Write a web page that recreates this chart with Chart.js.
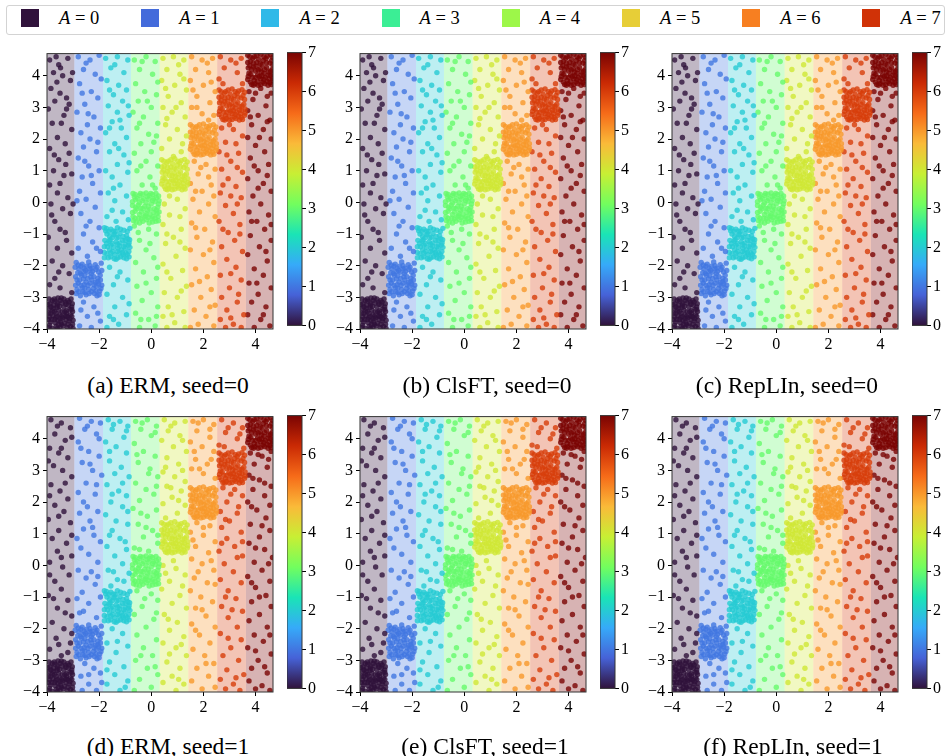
<!DOCTYPE html>
<html>
<head>
<meta charset="utf-8">
<script src="https://cdn.jsdelivr.net/npm/chart.js@4.4.1/dist/chart.umd.min.js"></script>
<style>
body { margin:0; background:#fff; font-family:'Liberation Serif','Times New Roman',serif; }
#fig { position:relative; width:948px; height:756px; overflow:hidden; background:#fff; }
.box { position:absolute; }
.cap { position:absolute; font-size:23.5px; line-height:28px; transform:translateX(-50%); white-space:nowrap; color:#000; }
#legend { position:absolute; left:6px; top:5px; width:937px; height:28px; border:1px solid #d3d3d3; border-radius:3px; }
.sw { position:absolute; top:3px; width:18px; height:18px; }
.lb { position:absolute; top:1px; font-size:18.5px; line-height:22px; white-space:nowrap; color:#000; }
</style>
</head>
<body>
<div id="fig"><div id="legend"></div></div>
<script>
// groups and ticks
const groups = [0, 1, 2, 3, 4, 5, 6, 7];
const xTicksStep = 2;
const yTicksStep = 1;
const xRange = [-4, 4.67];
const yRange = [-4, 4.7];
// x boundaries of the predicted A regions (background bands)
const bandEdges = [-4, -2.95, -1.85, -0.78, 0.32, 1.42, 2.53, 3.63, 4.67];
const captions = ['(a) ERM, seed=0', '(b) ClsFT, seed=0', '(c) RepLIn, seed=0',
                  '(d) ERM, seed=1', '(e) ClsFT, seed=1', '(f) RepLIn, seed=1'];

// seed 0, scattered points per A
const s0A0 = [[-3.9,4.5],[-3.55,4.35],[-3.2,4.55],[-3.75,4.1],[-3.4,4.0],[-3.1,3.85],[-3.85,3.6],[-3.5,3.45],[-3.25,3.3],[-3.7,3.2],[-3.95,2.95],[-3.35,2.75],[-3.05,2.3],[-3.8,2.5],[-3.6,2.05],[-3.3,1.85],[-3.9,1.7],[-3.15,1.55],[-3.55,1.35],[-3.75,1.0],[-3.35,0.85],[-3.05,0.9],[-3.9,0.55],[-3.6,0.3],[-3.2,0.15],[-3.85,-0.05],[-3.4,-0.2],[-3.1,-0.35],[-3.7,-0.6],[-3.5,-0.85],[-3.95,-1.1],[-3.25,-1.2],[-3.6,-1.45],[-3.05,-1.6],[-3.8,-1.85],[-3.4,-2.0],[-3.15,-2.25],[-3.7,-2.4],[-3.5,-2.7],[-3.9,-2.6],[-3.25,2.95],[-3.65,4.6],
  [-3.48,4.25],[-3.02,4.1],[-3.62,3.8],[-3.15,3.1],[-3.45,2.5],[-3.72,1.5],[-3.28,1.2],[-3.5,0.6],[-3.0,-0.05],[-3.82,-0.4],[-3.3,-0.95],[-3.55,-2.2],[-3.05,-2.85]];
const s0A1 = [[-2.8,4.6],[-2.35,4.5],[-2.0,4.65],[-2.6,4.2],[-2.15,4.05],[-2.75,3.75],[-2.3,3.5],[-2.05,3.3],[-2.55,3.1],[-2.85,2.85],[-2.2,2.7],[-2.45,2.45],[-2.7,2.2],[-1.95,2.35],[-2.35,2.0],[-2.6,1.75],[-2.1,1.6],[-2.8,1.4],[-2.4,1.15],[-2.0,1.0],[-2.65,0.8],[-2.25,0.6],[-2.75,0.35],[-1.95,0.3],[-2.5,0.1],[-2.15,-0.15],[-2.7,-0.35],[-2.35,-0.6],[-2.0,-0.8],[-2.6,-1.0],[-2.25,-1.25],[-2.8,-1.45],[-1.95,-1.55],[-2.45,-1.7],[-2.6,-3.15],[-2.2,-3.3],[-2.45,-3.6],[-1.95,-3.75],[-2.75,-3.9],[-2.3,-3.95],
  [-2.5,4.4],[-1.92,3.9],[-2.65,3.45],[-2.42,2.8],[-2.05,1.9],[-2.55,1.3],[-2.3,0.85],[-2.85,0.05],[-2.5,-0.75],[-2.1,-1.45],[-2.7,-3.4],[-2.05,-3.5]];
const s0A2 = [[-1.75,4.55],[-1.3,4.6],[-0.9,4.5],[-1.55,4.25],[-1.05,4.1],[-1.7,3.85],[-1.25,3.7],[-0.95,3.55],[-1.45,3.4],[-1.1,3.2],[-1.65,3.05],[-1.3,2.85],[-0.85,2.75],[-1.5,2.55],[-1.15,2.35],[-1.75,2.2],[-0.95,2.05],[-1.4,1.85],[-1.6,1.6],[-1.05,1.5],[-1.3,1.2],[-1.75,1.0],[-0.9,0.95],[-1.5,0.8],[-1.2,0.55],[-1.65,0.3],[-0.95,0.2],[-1.4,0.05],[-1.1,-0.3],[-1.7,-0.45],[-1.35,-0.6],[-1.6,-2.05],[-1.2,-2.2],[-0.9,-2.45],[-1.45,-2.6],[-1.7,-2.9],[-1.1,-3.0],[-1.4,-3.3],[-0.95,-3.55],[-1.6,-3.6],[-1.25,-3.85],[-1.7,-3.95],
  [-1.4,4.35],[-1.6,3.55],[-0.88,3.05],[-1.2,2.6],[-1.6,2.35],[-1.25,1.7],[-0.85,1.25],[-1.45,0.45],[-0.88,-0.55],[-1.5,-0.25],[-1.3,-2.35],[-0.85,-3.2],[-1.45,-3.7]];
const s0A3 = [[-0.65,4.5],[-0.2,4.6],[0.15,4.45],[-0.45,4.2],[0.05,4.05],[-0.6,3.75],[-0.25,3.5],[0.2,3.4],[-0.5,3.2],[0.0,3.0],[-0.7,2.85],[-0.3,2.7],[0.25,2.5],[-0.55,2.35],[-0.1,2.15],[0.2,2.1],[-0.4,1.85],[-0.65,1.55],[0.0,1.6],[-0.2,1.3],[0.25,1.15],[-0.55,1.0],[-0.05,0.8],[-0.35,0.55],[0.15,0.45],[-0.65,-0.75],[-0.1,-0.85],[0.2,-1.0],[-0.45,-1.2],[-0.2,-1.5],[0.1,-1.75],[-0.6,-1.9],[-0.3,-2.2],[0.2,-2.4],[-0.55,-2.65],[0.0,-2.85],[-0.35,-3.1],[0.25,-3.3],[-0.6,-3.5],[-0.1,-3.7],[0.15,-3.9],[-0.45,-3.95],
  [-0.35,4.45],[0.25,3.8],[-0.15,3.2],[-0.45,2.5],[0.1,1.9],[-0.4,1.15],[0.05,0.55],[-0.5,-0.95],[-0.05,-1.3],[0.25,-2.05],[-0.2,-2.55],[-0.4,-3.7],[0.2,-3.6]];
const s0A4 = [[0.45,4.55],[0.85,4.6],[1.25,4.5],[0.6,4.2],[1.1,4.05],[0.4,3.85],[0.9,3.7],[1.35,3.55],[0.65,3.35],[1.15,3.15],[0.45,3.0],[0.8,2.85],[1.3,2.7],[0.55,2.45],[1.0,2.3],[1.35,2.1],[0.7,2.0],[0.4,1.7],[1.15,1.6],[0.85,1.45],[0.5,-0.05],[1.0,0.1],[1.3,-0.2],[0.7,-0.4],[0.45,-0.7],[1.15,-0.85],[0.85,-1.1],[0.55,-1.3],[1.3,-1.45],[0.95,-1.7],[0.45,-1.95],[1.2,-2.15],[0.75,-2.4],[1.35,-2.65],[0.5,-2.85],[1.0,-3.0],[0.65,-3.3],[1.25,-3.45],[0.45,-3.6],[0.9,-3.8],[1.3,-3.95],[0.6,-3.95],
  [1.05,4.35],[0.55,3.6],[1.25,3.9],[0.95,3.0],[0.6,2.65],[1.2,1.85],[0.7,0.2],[1.1,-0.45],[0.6,-1.0],[1.1,-1.25],[0.6,-2.2],[1.15,-2.8],[0.8,-3.55]];
const s0A5 = [[1.55,4.6],[1.95,4.5],[2.35,4.55],[1.7,4.2],[2.2,4.1],[1.5,3.85],[2.0,3.7],[2.45,3.5],[1.75,3.35],[2.25,3.15],[1.55,3.0],[1.95,2.8],[2.4,2.75],[1.65,1.3],[2.1,1.2],[2.45,1.05],[1.8,0.9],[1.5,0.6],[2.3,0.55],[1.95,0.35],[1.6,0.1],[2.2,-0.05],[1.85,-0.3],[2.45,-0.45],[1.55,-0.65],[2.05,-0.85],[1.75,-1.1],[2.35,-1.25],[1.5,-1.5],[2.0,-1.65],[2.4,-1.9],[1.7,-2.1],[2.15,-2.35],[1.55,-2.6],[2.3,-2.75],[1.9,-3.0],[2.45,-3.25],[1.65,-3.4],[2.1,-3.6],[1.8,-3.85],[2.4,-3.9],[1.5,-3.95],
  [2.15,4.4],[1.6,3.55],[2.3,3.8],[1.75,3.0],[2.2,2.6],[1.9,1.1],[2.2,0.8],[1.7,0.35],[2.4,0.2],[1.7,-0.8],[2.25,-1.5],[1.85,-2.5],[2.25,-3.3]];
const s0A6 = [[2.65,4.6],[3.05,4.5],[3.45,4.55],[2.8,4.25],[3.3,4.1],[2.6,3.9],[3.5,3.75],[2.7,2.35],[3.15,2.3],[3.5,2.1],[2.85,1.9],[2.6,1.6],[3.35,1.55],[3.05,1.3],[2.7,1.05],[3.5,0.95],[2.95,0.75],[3.25,0.5],[2.65,0.3],[3.45,0.15],[2.85,-0.1],[3.15,-0.35],[2.6,-0.6],[3.4,-0.7],[2.95,-0.95],[3.2,-1.2],[2.7,-1.4],[3.5,-1.55],[2.9,-1.8],[3.25,-2.05],[2.65,-2.3],[3.45,-2.45],[3.0,-2.7],[2.7,-3.0],[3.3,-3.15],[2.9,-3.4],[3.55,-3.55],[2.65,-3.7],[3.15,-3.85],[3.45,-3.95],[2.85,-3.95],[3.3,-0.05],
  [3.25,4.4],[2.75,3.75],[3.0,2.45],[3.25,1.85],[2.9,1.5],[3.3,1.1],[2.75,0.55],[3.05,0.2],[2.75,-0.85],[3.4,-1.0],[3.05,-2.25],[3.35,-2.9],[3.05,-3.65]];
const s0A7 = [[3.75,3.5],[4.2,3.6],[4.6,3.45],[3.9,3.25],[4.4,3.05],[3.7,2.9],[4.1,2.75],[4.55,2.6],[3.85,2.45],[4.3,2.3],[3.7,2.05],[4.6,2.0],[4.0,1.8],[4.35,1.6],[3.8,1.4],[4.5,1.2],[4.1,1.0],[3.7,0.75],[4.3,0.6],[4.6,0.35],[3.9,0.2],[4.2,-0.05],[3.75,-0.3],[4.5,-0.4],[4.05,-0.6],[4.35,-0.85],[3.8,-1.05],[4.6,-1.2],[4.15,-1.4],[3.7,-1.65],[4.45,-1.85],[3.95,-2.1],[4.3,-2.3],[3.75,-2.55],[4.6,-2.7],[4.1,-2.9],[3.85,-3.15],[4.4,-3.3],[3.7,-3.55],[4.2,-3.7],[4.55,-3.9],[3.95,-3.95],
  [4.0,3.45],[4.45,3.35],[3.8,2.7],[4.45,2.55],[4.15,2.05],[3.95,1.15],[4.45,0.85],[4.1,0.45],[3.85,-0.6],[4.6,-0.7],[4.4,-1.55],[4.05,-2.55],[4.3,-3.55]];

// seed 1, scattered points per A
const s1A0 = [[-3.85,4.6],[-3.45,4.5],[-3.1,4.35],[-3.7,4.15],[-3.3,3.95],[-3.9,3.7],[-3.55,3.55],[-3.2,3.4],[-3.75,3.15],[-3.4,3.0],[-3.05,2.8],[-3.85,2.55],[-3.5,2.35],[-3.2,2.1],[-3.7,1.9],[-3.35,1.7],[-3.95,1.45],[-3.1,1.35],[-3.55,1.1],[-3.8,0.85],[-3.25,0.7],[-3.6,0.45],[-3.05,0.3],[-3.9,0.1],[-3.4,-0.05],[-3.15,-0.3],[-3.7,-0.5],[-3.45,-0.75],[-3.95,-0.95],[-3.2,-1.1],[-3.6,-1.35],[-3.05,-1.6],[-3.8,-1.8],[-3.35,-2.0],[-3.65,-2.3],[-3.1,-2.45],[-3.9,-2.65],[-3.45,-2.85],[-3.2,-2.75],[-3.75,-1.05],
  [-3.6,4.4],[-3.05,4.05],[-3.45,3.7],[-3.95,3.3],[-3.3,2.6],[-3.9,2.2],[-3.55,1.55],[-3.05,0.95],[-3.45,0.25],[-3.9,-0.3],[-3.3,-1.5],[-3.55,-2.5],[-3.05,-2.15]];
const s1A1 = [[-2.75,4.65],[-2.3,4.55],[-1.95,4.5],[-2.55,4.3],[-2.1,4.15],[-2.8,3.9],[-2.4,3.6],[-2.0,3.45],[-2.65,3.25],[-2.25,3.0],[-1.9,2.85],[-2.5,2.6],[-2.8,2.3],[-2.15,2.25],[-2.45,1.85],[-2.75,1.65],[-2.05,1.7],[-2.35,1.4],[-2.6,1.15],[-2.2,0.95],[-1.95,0.75],[-2.7,0.55],[-2.4,0.35],[-2.05,0.1],[-2.8,-0.15],[-2.5,-0.4],[-2.15,-0.6],[-2.65,-0.85],[-1.95,-1.0],[-2.4,-1.2],[-2.75,-1.5],[-2.1,-1.65],[-2.55,-3.1],[-2.2,-3.25],[-2.7,-3.5],[-1.95,-3.4],[-2.4,-3.75],[-2.1,-3.95],[-2.65,-3.95],[-2.85,-1.05],
  [-2.45,4.4],[-2.0,4.0],[-2.7,3.7],[-2.35,3.2],[-2.1,2.55],[-2.6,2.0],[-2.25,1.2],[-2.85,0.85],[-2.3,-0.2],[-2.05,-0.35],[-2.6,-1.45],[-2.4,-3.45],[-1.9,-3.7]];
const s1A2 = [[-1.65,4.6],[-1.2,4.55],[-0.9,4.4],[-1.5,4.3],[-1.05,4.05],[-1.75,3.9],[-1.35,3.75],[-0.95,3.55],[-1.6,3.3],[-1.15,3.1],[-1.4,2.9],[-0.85,2.8],[-1.7,2.55],[-1.25,2.35],[-0.95,2.2],[-1.55,2.0],[-1.1,1.85],[-1.75,1.6],[-1.35,1.4],[-0.9,1.3],[-1.5,1.1],[-1.2,0.85],[-1.7,0.6],[-0.95,0.5],[-1.4,0.3],[-1.1,0.05],[-1.65,-0.15],[-0.85,-0.25],[-1.3,-0.45],[-1.55,-0.65],[-1.5,-2.0],[-1.1,-2.15],[-1.7,-2.45],[-0.9,-2.55],[-1.35,-2.75],[-1.6,-3.05],[-1.05,-3.2],[-1.4,-3.45],[-0.9,-3.65],[-1.7,-3.75],[-1.2,-3.95],
  [-1.45,4.45],[-0.95,4.25],[-1.6,3.6],[-1.1,2.6],[-1.5,2.25],[-0.9,1.7],[-1.6,0.95],[-1.0,0.75],[-1.45,-0.2],[-1.05,-0.5],[-1.3,-2.4],[-1.7,-3.3],[-1.0,-3.85]];
const s1A3 = [[-0.6,4.55],[-0.15,4.6],[0.2,4.4],[-0.4,4.3],[0.0,4.1],[-0.65,3.85],[-0.3,3.6],[0.15,3.45],[-0.5,3.25],[-0.05,3.05],[0.25,2.8],[-0.6,2.6],[-0.2,2.4],[0.1,2.25],[-0.45,2.05],[-0.7,1.8],[0.2,1.75],[-0.15,1.55],[-0.5,1.3],[0.05,1.1],[-0.3,0.9],[0.25,0.7],[-0.65,0.55],[-0.1,0.45],[-0.55,-0.8],[0.0,-0.9],[0.25,-1.1],[-0.35,-1.3],[-0.65,-1.55],[0.1,-1.7],[-0.2,-1.95],[-0.55,-2.2],[0.2,-2.35],[-0.3,-2.6],[0.05,-2.85],[-0.6,-3.0],[-0.15,-3.25],[0.25,-3.45],[-0.45,-3.6],[0.0,-3.85],[-0.65,-3.95],
  [-0.35,4.5],[0.15,4.2],[-0.55,3.5],[-0.1,2.9],[0.2,2.5],[-0.4,1.65],[-0.2,1.2],[0.25,0.95],[-0.45,0.5],[-0.25,-1.05],[0.2,-1.5],[-0.4,-2.85],[0.15,-3.2]];
const s1A4 = [[0.5,4.6],[0.9,4.5],[1.3,4.55],[0.65,4.25],[1.1,4.1],[0.4,3.95],[0.85,3.75],[1.35,3.6],[0.6,3.4],[1.05,3.2],[0.45,2.95],[0.9,2.8],[1.3,2.65],[0.6,2.5],[1.15,2.35],[0.8,2.15],[0.45,1.95],[1.3,1.9],[1.0,1.65],[0.55,1.5],[0.45,0.0],[0.95,-0.1],[1.3,-0.3],[0.7,-0.5],[0.4,-0.75],[1.1,-0.95],[0.8,-1.2],[1.35,-1.35],[0.5,-1.55],[1.0,-1.8],[0.7,-2.05],[1.25,-2.25],[0.45,-2.45],[0.95,-2.6],[1.35,-2.85],[0.6,-3.05],[1.1,-3.25],[0.8,-3.5],[0.45,-3.7],[1.25,-3.75],[0.95,-3.95],
  [0.75,4.4],[1.2,3.95],[0.55,3.1],[1.2,3.0],[0.75,2.45],[1.05,2.05],[0.85,0.15],[0.55,-0.25],[1.2,-0.65],[0.65,-1.7],[1.15,-2.5],[0.7,-2.8],[1.05,-3.6]];
const s1A5 = [[1.6,4.55],[2.0,4.6],[2.4,4.45],[1.75,4.25],[2.25,4.05],[1.5,3.9],[1.95,3.75],[2.4,3.6],[1.7,3.35],[2.15,3.2],[1.55,3.05],[2.0,2.9],[2.45,2.75],[1.75,1.35],[2.25,1.25],[1.5,1.05],[2.0,0.95],[2.45,0.75],[1.7,0.6],[2.2,0.4],[1.55,0.2],[1.95,0.05],[2.4,-0.15],[1.65,-0.4],[2.15,-0.55],[1.5,-0.8],[1.9,-1.0],[2.35,-1.15],[1.7,-1.35],[2.1,-1.6],[1.55,-1.85],[2.45,-1.95],[1.85,-2.2],[2.25,-2.45],[1.6,-2.65],[2.05,-2.85],[2.4,-3.1],[1.75,-3.25],[2.2,-3.5],[1.55,-3.65],[1.95,-3.9],[2.45,-3.85],
  [1.8,4.5],[2.25,4.3],[1.65,3.6],[2.3,3.35],[1.85,3.05],[2.0,1.2],[1.6,0.8],[2.3,0.15],[1.8,-0.2],[2.45,-0.6],[1.95,-1.4],[1.7,-2.05],[2.1,-3.1]];
const s1A6 = [[2.7,4.6],[3.15,4.5],[3.5,4.35],[2.85,4.2],[3.3,4.0],[2.6,3.8],[3.55,3.7],[2.75,2.45],[3.2,2.4],[3.5,2.2],[2.9,2.0],[2.65,1.7],[3.3,1.65],[3.0,1.4],[2.7,1.2],[3.45,1.05],[2.9,0.85],[3.2,0.6],[2.6,0.45],[3.5,0.3],[2.8,0.05],[3.15,-0.2],[2.65,-0.45],[3.45,-0.55],[2.95,-0.8],[3.25,-1.05],[2.7,-1.3],[3.5,-1.45],[2.95,-1.65],[3.3,-1.95],[2.65,-2.15],[3.45,-2.35],[3.05,-2.6],[2.75,-2.85],[3.35,-3.0],[2.9,-3.3],[3.55,-3.45],[2.65,-3.6],[3.15,-3.75],[3.4,-3.95],[2.85,-3.9],
  [2.95,4.35],[3.4,4.15],[2.8,3.75],[3.05,2.25],[3.35,1.85],[2.85,1.45],[3.5,0.75],[2.7,0.7],[3.3,0.25],[2.85,-1.0],[3.1,-1.4],[2.95,-2.3],[3.25,-3.55]];
const s1A7 = [[3.8,3.55],[4.25,3.45],[4.6,3.6],[3.95,3.2],[4.45,3.1],[3.75,2.85],[4.15,2.7],[4.6,2.5],[3.9,2.4],[4.35,2.2],[3.7,2.0],[4.55,1.9],[4.05,1.75],[4.4,1.5],[3.8,1.3],[4.55,1.1],[4.15,0.9],[3.75,0.7],[4.35,0.5],[4.65,0.25],[3.95,0.1],[4.25,-0.15],[3.7,-0.35],[4.55,-0.5],[4.0,-0.7],[4.4,-0.95],[3.85,-1.15],[4.6,-1.3],[4.15,-1.55],[3.75,-1.75],[4.45,-1.95],[3.95,-2.2],[4.3,-2.4],[3.7,-2.6],[4.6,-2.8],[4.1,-3.0],[3.85,-3.25],[4.45,-3.4],[3.75,-3.65],[4.25,-3.8],[4.55,-3.95],[4.0,-3.9],
  [4.1,3.5],[4.5,3.35],[3.9,2.75],[4.35,2.6],[3.85,1.85],[4.25,1.25],[4.0,0.55],[4.5,0.05],[3.85,-0.55],[4.15,-1.0],[4.55,-2.2],[4.0,-2.7],[4.35,-3.2]];

// dense diagonal clusters (look the same in both seeds)
const cA0 = [[-3.92,-3.05],[-3.7,-3.12],[-3.45,-3.02],[-3.2,-3.1],[-3.03,-3.2],[-3.85,-3.3],[-3.6,-3.25],[-3.35,-3.3],[-3.12,-3.38],[-3.95,-3.5],[-3.72,-3.45],[-3.5,-3.55],[-3.25,-3.5],[-3.05,-3.6],[-3.82,-3.7],[-3.58,-3.72],[-3.4,-3.65],[-3.15,-3.75],[-3.9,-3.88],[-3.65,-3.92],[-3.45,-3.85],[-3.22,-3.95],[-3.02,-3.85],[-3.78,-3.58],[-3.3,-3.15],[-3.55,-3.4],[-3.88,-3.2],[-3.1,-3.55],[-3.68,-3.8],[-3.28,-3.7],[-3.5,-3.1],[-3.8,-3.98],[-3.0,-3.98],[-3.38,-3.9],[-3.62,-3.6],[-3.18,-3.25],[-3.95,-3.7],[-3.42,-3.45],[-3.75,-3.35],[-3.08,-3.05],[-3.58,-3.02],[-3.3,-3.58],[-3.85,-3.5],[-3.2,-3.85],[-3.7,-3.7],[-3.48,-3.78],[-3.12,-3.68],[-3.92,-3.35],[-3.6,-3.18],[-3.25,-3.42],[-3.02,-3.45],[-3.8,-3.1],[-3.5,-3.95],[-3.35,-3.05],[-3.65,-3.5],
  [-3.97,-3.22],[-3.75,-3.25],[-3.52,-3.28],[-3.27,-3.22],[-3.05,-3.3],[-3.9,-3.62],[-3.66,-3.64],[-3.44,-3.6],[-3.2,-3.62],[-3.0,-3.72],[-3.86,-3.78],[-3.56,-3.86],[-3.33,-3.82],[-3.1,-3.92],[-3.72,-3.05],[-3.42,-3.18],[-3.15,-3.15],[-3.62,-3.32],[-3.32,-3.45],[-3.05,-3.38],[-3.8,-3.42],[-3.48,-3.68],[-3.25,-3.6],[-3.92,-3.95],[-3.6,-3.98]];
const cA1 = [[-2.88,-1.9],[-2.65,-1.95],[-2.4,-1.88],[-2.15,-1.97],[-1.92,-1.92],[-2.78,-2.1],[-2.52,-2.15],[-2.28,-2.08],[-2.02,-2.2],[-2.9,-2.35],[-2.68,-2.3],[-2.44,-2.4],[-2.2,-2.35],[-1.95,-2.45],[-2.8,-2.55],[-2.58,-2.6],[-2.35,-2.55],[-2.1,-2.65],[-2.85,-2.75],[-2.62,-2.82],[-2.4,-2.75],[-2.18,-2.88],[-1.98,-2.8],[-2.72,-2.95],[-2.5,-2.92],[-2.3,-2.25],[-2.05,-2.5],[-2.75,-2.45],[-2.48,-2.02],[-2.22,-2.72],[-1.9,-2.62],[-2.6,-2.42],[-2.38,-2.88],[-2.12,-2.12],[-2.82,-2.22],[-2.55,-2.7],[-2.28,-2.45],[-1.96,-2.3],[-2.7,-2.62],[-2.45,-2.2],[-2.15,-2.52],[-2.88,-2.88],[-2.0,-2.92],[-2.35,-2.0],[-2.62,-2.18],
  [-2.92,-2.05],[-2.7,-2.02],[-2.35,-2.1],[-2.08,-2.05],[-1.9,-2.15],[-2.85,-2.45],[-2.55,-2.32],[-2.32,-2.35],[-2.05,-2.4],[-2.9,-2.62],[-2.65,-2.7],[-2.42,-2.62],[-2.2,-2.6],[-1.93,-2.72],[-2.78,-2.82],[-2.55,-2.85],[-2.3,-2.82],[-2.08,-2.95],[-2.58,-2.08],[-2.25,-2.18],[-2.72,-2.25],[-2.5,-2.52],[-2.12,-2.8],[-2.02,-2.58],[-2.8,-1.98]];
const cA2 = [[-1.8,-0.8],[-1.55,-0.85],[-1.3,-0.8],[-1.05,-0.88],[-0.82,-0.82],[-1.7,-1.0],[-1.45,-1.02],[-1.2,-0.98],[-0.95,-1.05],[-1.78,-1.2],[-1.58,-1.18],[-1.35,-1.25],[-1.1,-1.2],[-0.85,-1.28],[-1.68,-1.4],[-1.45,-1.42],[-1.22,-1.38],[-1.0,-1.45],[-1.8,-1.58],[-1.55,-1.6],[-1.3,-1.55],[-1.08,-1.65],[-0.86,-1.55],[-1.65,-1.75],[-1.42,-1.78],[-1.18,-1.72],[-0.95,-1.78],[-1.5,-1.3],[-1.25,-1.1],[-1.0,-1.32],[-1.72,-1.3],[-1.38,-0.92],[-0.9,-1.15],[-1.6,-1.5],[-1.15,-1.5],[-1.4,-1.65],[-0.82,-1.42],[-1.75,-0.9],[-1.5,-1.12],[-1.28,-1.45],[-1.05,-1.75],[-1.62,-0.92],[-0.92,-1.65],[-1.35,-1.8],[-1.2,-1.28],
  [-1.72,-0.82],[-1.45,-0.9],[-1.18,-0.85],[-0.92,-0.92],[-1.6,-1.08],[-1.32,-1.12],[-1.08,-1.08],[-0.83,-1.18],[-1.8,-1.4],[-1.55,-1.35],[-1.3,-1.32],[-1.05,-1.4],[-0.88,-1.35],[-1.7,-1.62],[-1.48,-1.55],[-1.22,-1.6],[-0.98,-1.6],[-1.8,-1.75],[-1.55,-1.72],[-1.28,-1.75],[-1.1,-1.58],[-0.85,-1.72],[-1.62,-1.22],[-1.4,-1.0],[-1.0,-1.2]];
const cA3 = [[-0.7,0.28],[-0.45,0.22],[-0.2,0.3],[0.05,0.25],[0.28,0.2],[-0.6,0.08],[-0.35,0.05],[-0.1,0.1],[0.15,0.02],[-0.72,-0.1],[-0.5,-0.08],[-0.25,-0.12],[0.0,-0.05],[0.25,-0.15],[-0.62,-0.28],[-0.38,-0.3],[-0.15,-0.25],[0.1,-0.32],[-0.7,-0.45],[-0.48,-0.5],[-0.22,-0.42],[0.02,-0.52],[0.26,-0.45],[-0.58,-0.62],[-0.32,-0.6],[-0.08,-0.65],[0.18,-0.6],[-0.4,-0.18],[-0.15,0.18],[0.12,-0.2],[-0.65,0.18],[-0.28,-0.45],[0.3,0.05],[-0.52,0.12],[-0.05,-0.38],[0.2,0.15],[-0.42,0.28],[-0.18,-0.55],[0.08,0.12],[-0.68,-0.58],[-0.3,0.12],[0.22,-0.35],[-0.55,-0.2],[-0.02,0.28],[-0.12,-0.12],
  [-0.62,0.25],[-0.32,0.26],[-0.08,0.22],[0.18,0.28],[-0.72,0.02],[-0.45,-0.02],[-0.2,0.0],[0.05,0.06],[0.28,-0.05],[-0.6,-0.15],[-0.32,-0.2],[-0.05,-0.22],[0.2,-0.25],[-0.72,-0.32],[-0.45,-0.38],[-0.2,-0.35],[0.06,-0.45],[0.3,-0.3],[-0.62,-0.5],[-0.38,-0.52],[-0.12,-0.48],[0.15,-0.5],[-0.45,-0.65],[0.05,-0.62],[0.28,-0.58]];
const cA4 = [[0.4,1.35],[0.65,1.3],[0.9,1.38],[1.15,1.32],[1.38,1.28],[0.5,1.15],[0.75,1.12],[1.0,1.18],[1.25,1.1],[0.42,0.95],[0.62,0.98],[0.88,0.92],[1.12,0.96],[1.35,0.9],[0.52,0.75],[0.78,0.72],[1.02,0.78],[1.28,0.7],[0.4,0.58],[0.65,0.55],[0.9,0.6],[1.15,0.52],[1.38,0.55],[0.55,0.42],[0.8,0.4],[1.05,0.45],[1.3,0.42],[0.7,0.85],[0.95,1.05],[1.2,0.82],[0.45,0.78],[0.82,1.22],[1.32,1.18],[0.58,0.65],[1.08,0.65],[0.72,1.0],[1.22,0.6],[0.48,1.02],[0.98,0.5],[1.4,0.75],[0.85,0.68],[0.6,1.25],[1.1,1.25],[0.68,0.45],[0.92,0.82],
  [0.48,1.3],[0.75,1.35],[1.02,1.3],[1.28,1.36],[0.4,1.12],[0.62,1.1],[0.88,1.08],[1.12,1.12],[1.38,1.05],[0.55,0.9],[0.8,0.85],[1.05,0.9],[1.28,0.85],[0.42,0.68],[0.7,0.65],[0.95,0.7],[1.18,0.72],[1.4,0.62],[0.5,0.5],[0.78,0.52],[1.02,0.58],[1.25,0.48],[0.62,0.4],[0.9,0.42],[1.18,0.4]];
const cA5 = [[1.5,2.45],[1.75,2.4],[2.0,2.48],[2.25,2.42],[2.48,2.38],[1.6,2.25],[1.85,2.22],[2.1,2.28],[2.35,2.2],[1.52,2.05],[1.72,2.08],[1.98,2.02],[2.22,2.06],[2.45,2.0],[1.62,1.85],[1.88,1.82],[2.12,1.88],[2.38,1.8],[1.5,1.68],[1.75,1.65],[2.0,1.7],[2.25,1.62],[2.48,1.65],[1.65,1.52],[1.9,1.5],[2.15,1.55],[2.4,1.52],[1.8,1.95],[2.05,2.15],[2.3,1.92],[1.55,1.88],[1.92,2.32],[2.42,2.28],[1.68,1.75],[2.18,1.75],[1.82,2.1],[2.32,1.7],[1.58,2.12],[2.08,1.6],[2.5,1.85],[1.95,1.78],[1.7,2.35],[2.2,2.35],[1.78,1.55],[2.02,1.92],
  [1.58,2.4],[1.85,2.45],[2.12,2.4],[2.38,2.45],[1.5,2.22],[1.72,2.2],[1.98,2.18],[2.22,2.22],[2.48,2.15],[1.65,2.0],[1.9,1.98],[2.15,2.0],[2.38,1.95],[1.52,1.78],[1.8,1.75],[2.05,1.8],[2.28,1.82],[2.5,1.72],[1.6,1.6],[1.88,1.62],[2.12,1.68],[2.35,1.58],[1.72,1.5],[2.0,1.52],[2.28,1.5]];
const cA6 = [[2.6,3.55],[2.85,3.5],[3.1,3.58],[3.35,3.52],[3.58,3.48],[2.7,3.35],[2.95,3.32],[3.2,3.38],[3.45,3.3],[2.62,3.15],[2.82,3.18],[3.08,3.12],[3.32,3.16],[3.55,3.1],[2.72,2.95],[2.98,2.92],[3.22,2.98],[3.48,2.9],[2.6,2.78],[2.85,2.75],[3.1,2.8],[3.35,2.72],[3.58,2.75],[2.75,2.62],[3.0,2.6],[3.25,2.65],[3.5,2.62],[2.9,3.05],[3.15,3.25],[3.4,3.02],[2.65,2.98],[3.02,3.42],[3.52,3.38],[2.78,2.85],[3.28,2.85],[2.92,3.2],[3.42,2.8],[2.68,3.22],[3.18,2.7],[3.6,2.95],[3.05,2.88],[2.8,3.45],[3.3,3.45],[2.88,2.65],[3.12,3.02],
  [2.68,3.5],[2.95,3.55],[3.22,3.5],[3.48,3.56],[2.6,3.32],[2.82,3.3],[3.08,3.28],[3.32,3.32],[3.58,3.25],[2.75,3.1],[3.0,3.08],[3.25,3.1],[3.48,3.05],[2.62,2.88],[2.9,2.85],[3.15,2.9],[3.38,2.92],[3.6,2.82],[2.7,2.7],[2.98,2.72],[3.22,2.78],[3.45,2.68],[2.82,2.6],[3.1,2.62],[3.38,2.6]];
const cA7 = [[3.7,4.65],[3.95,4.6],[4.2,4.68],[4.45,4.62],[4.66,4.58],[3.8,4.45],[4.05,4.42],[4.3,4.48],[4.55,4.4],[3.72,4.25],[3.92,4.28],[4.18,4.22],[4.42,4.26],[4.64,4.2],[3.82,4.05],[4.08,4.02],[4.32,4.08],[4.58,4.0],[3.7,3.88],[3.95,3.85],[4.2,3.9],[4.45,3.82],[4.66,3.85],[3.85,3.72],[4.1,3.7],[4.35,3.75],[4.6,3.72],[4.0,4.15],[4.25,4.35],[4.5,4.12],[3.75,4.08],[4.12,4.52],[4.62,4.48],[3.88,3.95],[4.38,3.95],[4.02,4.3],[4.52,3.9],[3.78,4.32],[4.28,3.8],[4.67,4.05],[4.15,3.98],[3.9,4.55],[4.4,4.55],[3.98,3.75],[4.22,4.12],
  [3.78,4.6],[4.05,4.65],[4.32,4.6],[4.58,4.66],[3.7,4.42],[3.92,4.4],[4.18,4.38],[4.42,4.42],[4.66,4.35],[3.85,4.2],[4.1,4.18],[4.35,4.2],[4.58,4.15],[3.72,3.98],[4.0,3.95],[4.25,4.0],[4.48,4.02],[4.66,3.92],[3.8,3.8],[4.08,3.82],[4.32,3.88],[4.55,3.78],[3.92,3.7],[4.2,3.72],[4.48,3.7]];

const seed0 = [s0A0, s0A1, s0A2, s0A3, s0A4, s0A5, s0A6, s0A7];
const seed1 = [s1A0, s1A1, s1A2, s1A3, s1A4, s1A5, s1A6, s1A7];
const clusters = [cA0, cA1, cA2, cA3, cA4, cA5, cA6, cA7];

// turbo colormap
const turboStops = ['#30123b', '#4662d7', '#36aaf9', '#1ae4b6', '#72fe5e', '#c8ef34', '#faba39', '#f66b19', '#ca2a04', '#7a0403'];
function hexRgb(h) {
    return [parseInt(h.slice(1, 3), 16), parseInt(h.slice(3, 5), 16), parseInt(h.slice(5, 7), 16)];
}
function turbo(t, a) {
    var p = Math.max(0, Math.min(1, t)) * (turboStops.length - 1);
    var i = Math.min(Math.floor(p), turboStops.length - 2);
    var f = p - i;
    var c0 = hexRgb(turboStops[i]), c1 = hexRgb(turboStops[i + 1]);
    var c = c0.map((v, j) => Math.round(v + (c1[j] - v) * f));
    return 'rgba(' + c[0] + ',' + c[1] + ',' + c[2] + ',' + (a === undefined ? 1 : a) + ')';
}

var fig = document.getElementById('fig');
var serif = "'Liberation Serif','Times New Roman',serif";
var minus = v => String(v).replace('-', '\u2212');

// legend
var legend = document.getElementById('legend');
groups.forEach(function (k) {
    var sw = document.createElement('div');
    sw.className = 'sw';
    sw.style.left = (14 + 120.2 * k) + 'px';
    sw.style.background = turbo(k / 8);
    legend.appendChild(sw);
    var lb = document.createElement('div');
    lb.className = 'lb';
    lb.style.left = (52 + 120.2 * k) + 'px';
    lb.innerHTML = '<i>A</i> = ' + k;
    legend.appendChild(lb);
});

var bandPlugin = {
    id: 'bands',
    beforeDatasetsDraw(chart) {
        var ctx = chart.ctx, a = chart.chartArea, x = chart.scales.x;
        ctx.save();
        groups.forEach(function (k) {
            var x0 = x.getPixelForValue(bandEdges[k]);
            var x1 = x.getPixelForValue(bandEdges[k + 1]);
            ctx.fillStyle = turbo(k / 7, 0.3);
            ctx.fillRect(x0, a.top, x1 - x0, a.bottom - a.top);
        });
        ctx.restore();
    },
    afterDraw(chart) {
        var ctx = chart.ctx, a = chart.chartArea;
        ctx.save();
        ctx.strokeStyle = '#333';
        ctx.lineWidth = 1;
        ctx.strokeRect(a.left, a.top, a.right - a.left, a.bottom - a.top);
        ctx.restore();
    }
};

var cbarPlugin = {
    id: 'cbar',
    beforeDraw(chart) {
        var ctx = chart.ctx, a = chart.chartArea;
        var g = ctx.createLinearGradient(0, a.bottom, 0, a.top);
        turboStops.forEach((c, i) => g.addColorStop(i / (turboStops.length - 1), c));
        ctx.save();
        ctx.fillStyle = g;
        ctx.fillRect(a.left, a.top, a.right - a.left, a.bottom - a.top);
        ctx.restore();
    },
    afterDraw(chart) {
        var ctx = chart.ctx, a = chart.chartArea;
        ctx.save();
        ctx.strokeStyle = '#333';
        ctx.lineWidth = 1;
        ctx.strokeRect(a.left, a.top, a.right - a.left, a.bottom - a.top);
        ctx.restore();
    }
};

function addCanvas(left, top, w, h) {
    var div = document.createElement('div');
    div.className = 'box';
    div.style.left = left + 'px';
    div.style.top = top + 'px';
    var cv = document.createElement('canvas');
    cv.width = w; cv.height = h;
    cv.style.width = w + 'px'; cv.style.height = h + 'px';
    div.appendChild(cv);
    fig.appendChild(div);
    return cv;
}

var tickFont = { family: serif, size: 16 };
var colLeft = [47, 360, 672];
var cbarLeft = [287, 600, 912];
var rowTop = [49, 412];
var capX = [[168, 487, 787], [168, 485, 793]];
var capY = [371, 732];
var plotW = 226, plotH = 280;

[0, 1].forEach(function (row) {
    var data = row === 0 ? seed0 : seed1;
    [0, 1, 2].forEach(function (col) {
        var cv = addCanvas(colLeft[col] - 40, rowTop[row] - 8, 40 + plotW + 8, 8 + plotH + 26);
        new Chart(cv, {
            type: 'scatter',
            data: {
                datasets: groups.map(k => ({
                    label: 'A = ' + k,
                    data: data[k].concat(clusters[k]).map(p => ({ x: p[0], y: p[1] })),
                    backgroundColor: turbo(k / 7, 0.8),
                    borderWidth: 0,
                    pointRadius: 2.7,
                    pointHoverRadius: 2.7
                }))
            },
            options: {
                responsive: false,
                animation: false,
                events: [],
                layout: { padding: { top: 8, right: 8, left: 0, bottom: 0 } },
                plugins: { legend: { display: false }, tooltip: { enabled: false } },
                scales: {
                    x: {
                        type: 'linear', min: xRange[0], max: xRange[1],
                        afterFit: s => { s.height = 26; },
                        border: { display: false },
                        grid: { drawOnChartArea: false, drawTicks: true, tickLength: 4, color: '#000' },
                        ticks: { stepSize: xTicksStep, includeBounds: false, color: '#000', font: tickFont, padding: 2, maxRotation: 0, callback: minus }
                    },
                    y: {
                        type: 'linear', min: yRange[0], max: yRange[1],
                        afterFit: s => { s.width = 40; },
                        border: { display: false },
                        grid: { drawOnChartArea: false, drawTicks: true, tickLength: 4, color: '#000' },
                        ticks: { stepSize: yTicksStep, includeBounds: false, color: '#000', font: tickFont, padding: 3, callback: minus }
                    }
                }
            },
            plugins: [bandPlugin]
        });

        var cb = addCanvas(cbarLeft[col], rowTop[row] - 8, 15 + 26, 8 + plotH + 8);
        new Chart(cb, {
            type: 'scatter',
            data: { datasets: [] },
            options: {
                responsive: false,
                animation: false,
                events: [],
                layout: { padding: { top: 8, bottom: 8, left: 0, right: 0 } },
                plugins: { legend: { display: false }, tooltip: { enabled: false } },
                scales: {
                    x: { display: false, min: 0, max: 1 },
                    y: {
                        position: 'right', min: 0, max: 7,
                        afterFit: s => { s.width = 26; },
                        border: { display: false },
                        grid: { drawOnChartArea: false, drawTicks: true, tickLength: 4, color: '#000' },
                        ticks: { stepSize: 1, color: '#000', font: tickFont, padding: 2 }
                    }
                }
            },
            plugins: [cbarPlugin]
        });

        var cap = document.createElement('div');
        cap.className = 'cap';
        cap.style.left = capX[row][col] + 'px';
        cap.style.top = capY[row] + 'px';
        cap.textContent = captions[row * 3 + col];
        fig.appendChild(cap);
    });
});
</script>
</body>
</html>
